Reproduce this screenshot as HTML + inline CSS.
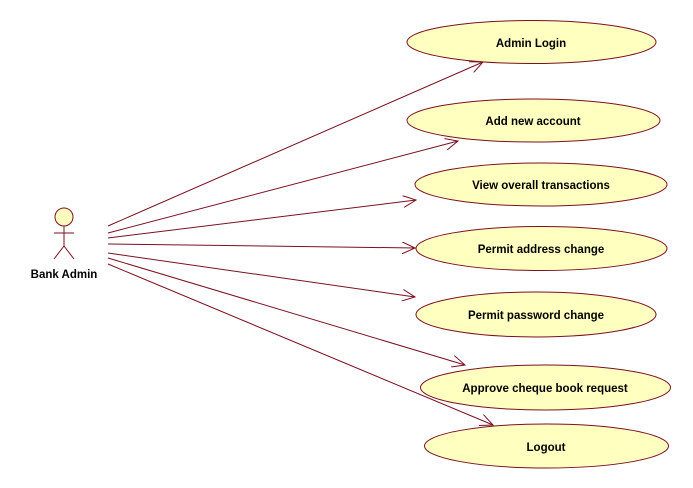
<!DOCTYPE html>
<html><head><style>
html,body{margin:0;padding:0;background:#fff;}
svg{display:block;}
text{font-family:"Liberation Sans",sans-serif;font-weight:bold;font-size:11.5px;fill:#000;}
</style></head><body>
<svg width="693" height="488" viewBox="0 0 693 488" xmlns="http://www.w3.org/2000/svg">
<defs>
<marker id="a" markerWidth="14" markerHeight="12" refX="13" refY="6" orient="auto" markerUnits="userSpaceOnUse">
<path d="M0,0 L13,6 L0,12" fill="none" stroke="#7a1020" stroke-width="1"/>
</marker>
</defs>
<g fill="#ffffc0" stroke="#7a1020" stroke-width="1">
<ellipse cx="531.5" cy="42" rx="124.5" ry="21.5"/>
<ellipse cx="533.5" cy="120.5" rx="126.5" ry="21.5"/>
<ellipse cx="541" cy="184.5" rx="126" ry="21.5"/>
<ellipse cx="541.5" cy="248.5" rx="125.5" ry="22"/>
<ellipse cx="536" cy="314.5" rx="120" ry="22.5"/>
<ellipse cx="545.5" cy="387.5" rx="125" ry="22.5"/>
<ellipse cx="546.5" cy="446" rx="122" ry="22"/>
</g>
<g stroke="#7a1020" stroke-width="1" fill="none" marker-end="url(#a)">
<line x1="108" y1="226" x2="483" y2="62"/>
<line x1="108" y1="233" x2="458" y2="141"/>
<line x1="108" y1="238" x2="416" y2="200"/>
<line x1="108" y1="244" x2="415" y2="248"/>
<line x1="108" y1="253" x2="415" y2="297"/>
<line x1="108" y1="258" x2="465" y2="365"/>
<line x1="108" y1="264" x2="493" y2="425"/>
</g>
<g stroke="#7a1020" stroke-width="1" fill="none">
<circle cx="64" cy="217" r="9" fill="#ffffc0"/>
<line x1="64" y1="226" x2="64" y2="246"/>
<line x1="54" y1="233" x2="74" y2="233"/>
<line x1="64" y1="246" x2="54" y2="259"/>
<line x1="64" y1="246" x2="74" y2="259"/>
</g>
<text x="64" y="278" text-anchor="middle">Bank Admin</text>
<g text-anchor="middle">
<text x="531" y="47">Admin Login</text>
<text x="533" y="125">Add new account</text>
<text x="541" y="189">View overall transactions</text>
<text x="541" y="253">Permit address change</text>
<text x="536" y="319">Permit password change</text>
<text x="545" y="392">Approve cheque book request</text>
<text x="546" y="451">Logout</text>
</g>
</svg>
</body></html>
